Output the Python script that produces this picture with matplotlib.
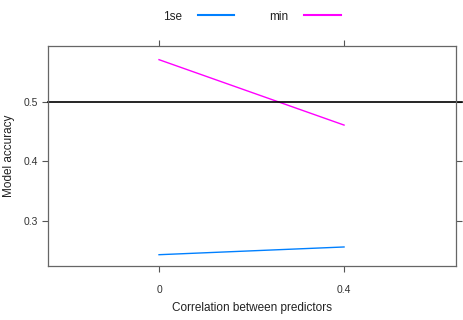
import matplotlib
matplotlib.use("Agg")
import matplotlib.pyplot as plt
from matplotlib.lines import Line2D

plt.rcParams["font.family"] = ["Liberation Sans", "DejaVu Sans"]

# data
correlation = [0, 0.4]
acc_1se = [0.243, 0.256]
acc_min = [0.571, 0.461]
series_names = ["1se", "min"]
ref_line = 0.5

fig = plt.figure(figsize=(4.64, 3.2), dpi=100)
ax = fig.add_axes([48 / 464, 1 - 266 / 320, 408 / 464, 220 / 320])

ax.plot(correlation, acc_1se, color="#0080ff", lw=1)
ax.plot(correlation, acc_min, color="#ff00ff", lw=1)
ax.axhline(ref_line, color="black", lw=1.2, clip_on=False, xmin=0, xmax=1.015)

ax.set_xlim(-0.24, 0.642)
ax.set_ylim(0.224, 0.594)
ax.set_xticks([0, 0.4])
ax.set_xticklabels(["0", "0.4"])
ax.set_yticks([0.3, 0.4, 0.5])
ax.set_yticklabels(["0.3", "0.4", "0.5"])
ax.tick_params(axis="both", direction="out", length=4, width=0.8, color="#555555",
               labelsize=7.5, labelcolor="#333333", top=True, right=True,
               labeltop=False, labelright=False)
ax.tick_params(axis="x", pad=10)
for s in ax.spines.values():
    s.set_color("#666666")
    s.set_linewidth(0.9)

ax.set_xlabel("Correlation between predictors", fontsize=8.5, color="#222222", labelpad=5)
ax.set_ylabel("Model accuracy", fontsize=8.5, color="#222222", labelpad=6)

handles = [Line2D([], [], color="#0080ff", lw=1.5), Line2D([], [], color="#ff00ff", lw=1.5)]
leg = fig.legend(handles, series_names, loc="upper center", bbox_to_anchor=(0.543, 1.0),
                 ncol=2, frameon=False, fontsize=8.5, markerfirst=False,
                 handlelength=3.1, columnspacing=3.0, handletextpad=1.3)
for t in leg.get_texts():
    t.set_color("#222222")

fig.savefig("out.png", dpi=100)
